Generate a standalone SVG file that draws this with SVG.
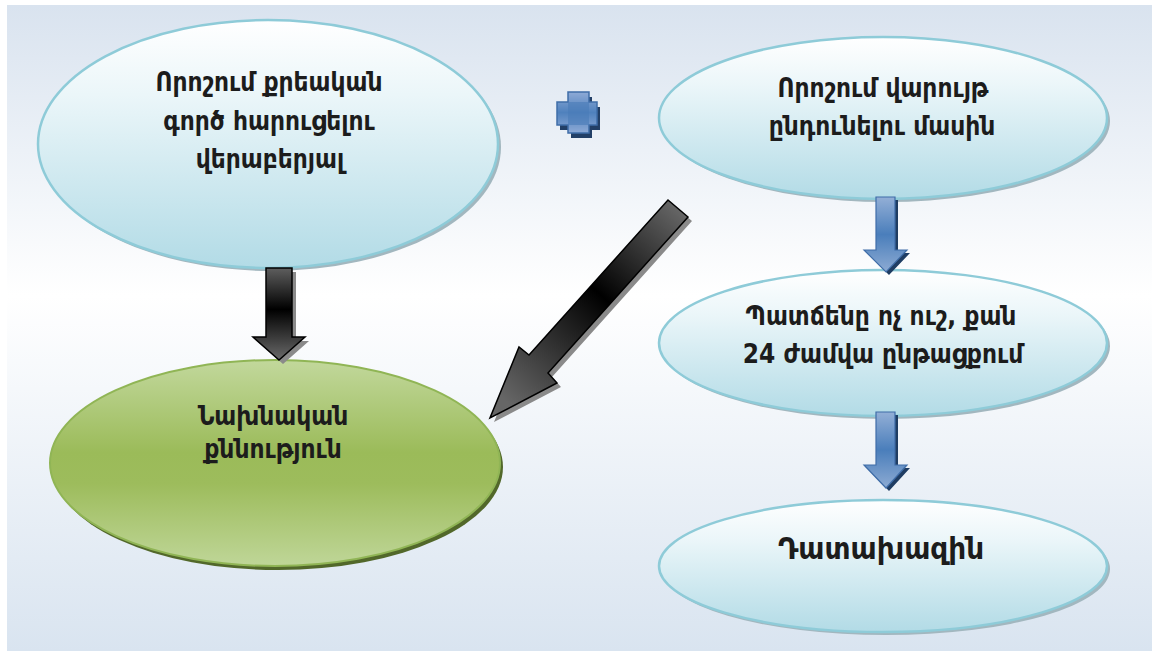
<svg xmlns="http://www.w3.org/2000/svg" width="1152" height="651" viewBox="0 0 1152 651">
<defs>
<linearGradient id="bg" x1="0" y1="0" x2="0" y2="1">
<stop offset="0" stop-color="#d9e3ef"/>
<stop offset="0.45" stop-color="#ffffff"/>
<stop offset="1" stop-color="#d9e4f0"/>
</linearGradient>
<linearGradient id="blueNode" x1="0" y1="0" x2="0" y2="1">
<stop offset="0" stop-color="#ffffff"/>
<stop offset="0.3" stop-color="#ebf6f9"/>
<stop offset="1" stop-color="#b2dbe6"/>
</linearGradient>
<linearGradient id="greenNode" x1="0" y1="0" x2="0" y2="1">
<stop offset="0" stop-color="#c2d89c"/>
<stop offset="0.45" stop-color="#9bbb59"/>
<stop offset="0.6" stop-color="#9dbc5c"/>
<stop offset="1" stop-color="#bfd698"/>
</linearGradient>
<linearGradient id="blackV" x1="0" y1="0" x2="0" y2="1">
<stop offset="0" stop-color="#5e5e5e"/>
<stop offset="0.45" stop-color="#000000"/>
<stop offset="1" stop-color="#6a6a6a"/>
</linearGradient>
<linearGradient id="blackD" gradientUnits="userSpaceOnUse" x1="678" y1="208" x2="505" y2="400">
<stop offset="0" stop-color="#666666"/>
<stop offset="0.45" stop-color="#000000"/>
<stop offset="1" stop-color="#666666"/>
</linearGradient>
<linearGradient id="blueArrow" x1="0" y1="0" x2="0" y2="1">
<stop offset="0" stop-color="#93afd6"/>
<stop offset="0.5" stop-color="#4a7ebb"/>
<stop offset="1" stop-color="#8dabd3"/>
</linearGradient>
<linearGradient id="plusFill" x1="0" y1="0" x2="0" y2="1">
<stop offset="0" stop-color="#8eaad6"/>
<stop offset="0.5" stop-color="#4f81bd"/>
<stop offset="1" stop-color="#8eaad6"/>
</linearGradient>
</defs>
<style>
.bn { fill: url(#blueNode); stroke: #8ecbd8; stroke-width: 2.5; }
.bs { fill: #a2b7bf; }
.gn { fill: url(#greenNode); stroke: #90b555; stroke-width: 2; }
.gs { fill: #52682a; }
.t { font-family: "DejaVu Sans Condensed", "DejaVu Sans", sans-serif; font-weight: bold; font-size: 26px; fill: #1c1c1c; text-anchor: middle; }
.tb { font-size: 31px; }
.ka { fill: url(#blackV); stroke: #000; stroke-width: 1.5; stroke-linejoin: miter; }
.kd { fill: url(#blackD); stroke: #000; stroke-width: 1.5; }
.ks { fill: #8a8a8a; }
.ba { fill: url(#blueArrow); stroke: #3f6da8; stroke-width: 1.2; }
.bsh { fill: #1f3d63; }
</style>

<rect x="7" y="5" width="1145" height="646" fill="url(#bg)"/>

<g id="node-decision-criminal-case">
<ellipse class="bs" cx="271" cy="147" rx="230" ry="124"/>
<ellipse class="bn" cx="268" cy="144" rx="230" ry="124"/>
<text class="t" x="269" y="91">Որոշում քրեական</text>
<text class="t" x="269" y="130">գործ հարուցելու</text>
<text class="t" x="270" y="168">վերաբերյալ</text>
</g>

<g id="node-decision-proceedings">
<ellipse class="bs" cx="886" cy="121" rx="224" ry="81"/>
<ellipse class="bn" cx="883" cy="118" rx="224" ry="81"/>
<text class="t" x="883" y="97">Որոշում վարույթ</text>
<text class="t" x="882" y="135">ընդունելու մասին</text>
</g>

<g id="node-copy-24h">
<ellipse class="bs" cx="886" cy="346" rx="224" ry="73"/>
<ellipse class="bn" cx="883" cy="343" rx="224" ry="73"/>
<text class="t" x="881" y="325">Պատճենը ոչ ուշ, քան</text>
<text class="t" x="883" y="363">24 ժամվա ընթացքում</text>
</g>

<g id="node-prosecutor">
<ellipse class="bs" cx="886" cy="569" rx="224" ry="66"/>
<ellipse class="bn" cx="883" cy="566" rx="224" ry="66"/>
<text class="t tb" x="881" y="559">Դատախազին</text>
</g>

<g id="node-preliminary-investigation">
<ellipse class="gs" cx="278" cy="467" rx="225" ry="103"/>
<ellipse class="gn" cx="275" cy="463" rx="225" ry="103"/>
<text class="t" x="273" y="425">Նախնական</text>
<text class="t" x="273" y="458">քննություն</text>
</g>

<g id="plus-sign">
<polygon fill="#223f66" transform="translate(3,5)" points="568,92 589,92 589,102 597,102 597,125 589,125 589,133 568,133 568,125 557,125 557,102 568,102"/>
<polygon fill="url(#plusFill)" stroke="#3f6da8" stroke-width="1.5" points="568,92 589,92 589,102 597,102 597,125 589,125 589,133 568,133 568,125 557,125 557,102 568,102"/>
<rect x="568" y="102" width="21" height="23" fill="#4a7cb8" opacity="0.6"/>
</g>

<g id="connectors">
<polygon class="ks" transform="translate(4,4)" points="266,268 292,268 292,337 305,337 279,360 253,337 266,337"/>
<polygon class="ka" points="266,268 292,268 292,337 305,337 279,360 253,337 266,337"/>

<polygon class="ks" transform="translate(4,4)" points="668,200 688,217 548,373 557,383 490,418 519,347 529,355"/>
<polygon class="kd" points="668,200 688,217 548,373 557,383 490,418 519,347 529,355"/>

<polygon class="bsh" transform="translate(3,3)" points="876,197 895,197 895,250 907,250 886,272 864,250 876,250"/>
<polygon class="ba" points="876,197 895,197 895,250 907,250 886,272 864,250 876,250"/>

<polygon class="bsh" transform="translate(3,3)" points="876,412 895,412 895,465 907,465 886,488 864,465 876,465"/>
<polygon class="ba" points="876,412 895,412 895,465 907,465 886,488 864,465 876,465"/>
</g>
</svg>
